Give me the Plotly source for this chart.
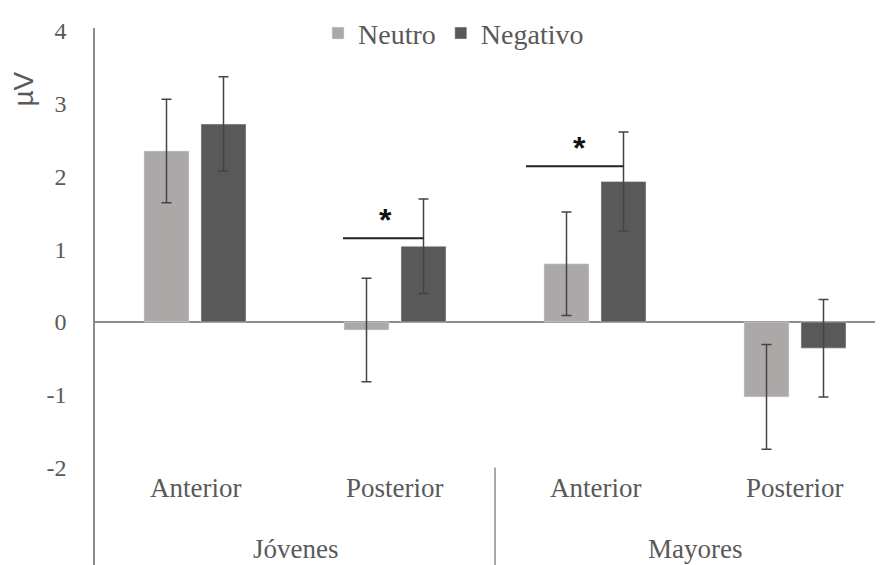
import plotly.graph_objects as go

# ---- data ----
groups = ["Jóvenes", "Jóvenes", "Mayores", "Mayores"]
group_names = ["Jóvenes", "Mayores"]
regions = ["Anterior", "Posterior", "Anterior", "Posterior"]
neutro = [2.35, -0.11, 0.80, -1.03]
neutro_err = [0.71, 0.71, 0.71, 0.72]
negativo = [2.72, 1.04, 1.93, -0.36]
negativo_err = [0.65, 0.65, 0.68, 0.67]
y_ticks = [-2, -1, 0, 1, 2, 3, 4]
y_tick_text = ["-2", "-1", "0", "1", "2", "3", "4"]
# significance markers: (category index, bracket level, left extent in category units)
sig_cat = [1, 2]
sig_level = [1.15, 2.14]
sig_left = [0.26, 0.345]
sig_star_dx = [-0.05, -0.08]

x = list(range(len(regions)))
bargap = 0.43
half = (1 - bargap) / 4  # offset of each bar centre from category centre

fig = go.Figure()
fig.add_trace(go.Bar(
    x=x, y=neutro, name="Neutro", marker_color="#ABA8A7",
    error_y=dict(type="data", array=neutro_err, color="#444444", thickness=1.5, width=5),
))
fig.add_trace(go.Bar(
    x=x, y=negativo, name="Negativo", marker_color="#595959",
    error_y=dict(type="data", array=negativo_err, color="#444444", thickness=1.5, width=5),
))

serif = "Liberation Serif"
sans = "Liberation Sans"
grey = "#595959"
axis_c = "#8c8c8c"

shapes = []
annotations = []
# region labels
for xi, r in zip(x, regions):
    annotations.append(dict(x=xi, y=-2.28, xref="x", yref="y", text=r, showarrow=False,
                            font=dict(family=serif, size=27, color=grey)))
# group labels
for gi, g in enumerate(group_names):
    idx = [i for i, gg in enumerate(groups) if gg == g]
    annotations.append(dict(x=sum(idx) / len(idx), y=-3.12, xref="x", yref="y", text=g,
                            showarrow=False, font=dict(family=serif, size=27, color=grey)))
# divider between groups
shapes.append(dict(type="line", xref="x", yref="y", x0=1.5, x1=1.5, y0=-2.0, y1=-3.4,
                   line=dict(color=axis_c, width=1.5)))
# significance brackets
for c, lvl, left, dx in zip(sig_cat, sig_level, sig_left, sig_star_dx):
    shapes.append(dict(type="line", xref="x", yref="y", x0=c - left, x1=c + half,
                       y0=lvl, y1=lvl, line=dict(color="#222222", width=2)))
    annotations.append(dict(x=c + dx, y=lvl - 0.03, xref="x", yref="y", text="<b>*</b>",
                            showarrow=False, yanchor="bottom",
                            font=dict(family=sans, size=32, color="#111111")))
# y axis title
annotations.append(dict(x=0, y=3.2, xref="paper", yref="y", xshift=-89, text="µV",
                        textangle=-90, showarrow=False,
                        font=dict(family=sans, size=28, color=grey)))

fig.update_layout(
    width=875, height=557,
    margin=dict(l=87, r=0, t=12, b=0),
    paper_bgcolor="white", plot_bgcolor="white",
    barmode="group", bargap=bargap, bargroupgap=0.21,
    showlegend=True,
    legend=dict(orientation="h", x=0.455, xanchor="center", y=0.99, yanchor="middle",
                font=dict(family=serif, size=28, color=grey), itemwidth=30,
                bgcolor="rgba(0,0,0,0)"),
    xaxis=dict(range=[-0.5, 3.44], showticklabels=False, showgrid=False, zeroline=False,
               showline=False, ticks=""),
    yaxis=dict(range=[-3.34, 4.04], tickvals=y_ticks, ticktext=y_tick_text, showgrid=False,
               zeroline=True, zerolinecolor=axis_c, zerolinewidth=1.5,
               showline=True, linecolor=axis_c, linewidth=1.5, ticks="",
               ticklabelstandoff=22,
               tickfont=dict(family=serif, size=24, color=grey)),
    shapes=shapes, annotations=annotations,
)

fig.write_html("out.html")
